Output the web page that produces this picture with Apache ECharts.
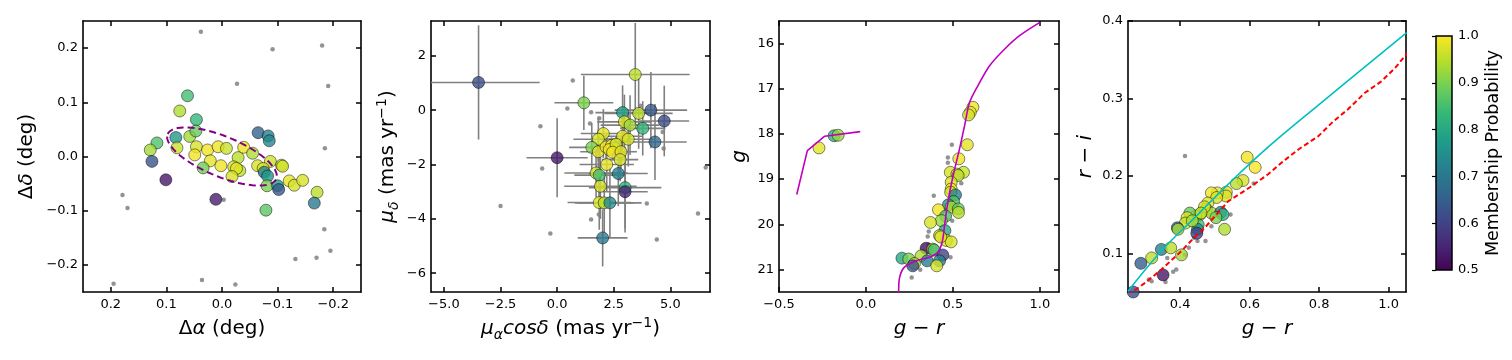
<!DOCTYPE html>
<html>
<head>
<meta charset="utf-8">
<script src="https://cdn.jsdelivr.net/npm/echarts@6/dist/echarts.min.js"></script>
<style>
html, body { margin: 0; padding: 0; background: #fff; }
#chart { width: 1512px; height: 360px; }
</style>
</head>
<body>
<div id="chart"></div>
<script>
// colour map for membership probability (viridis)
const viridis = ['#440154', '#482878', '#3e4989', '#31688e', '#26828e', '#1f9e89', '#35b779', '#6ece58', '#b5de2b', '#fde725'];

// panel 1: sky position, [dRA, dDec, prob]
const raTicks = [0.2, 0.1, 0, -0.1, -0.2];
const decTicks = [-0.2, -0.1, 0, 0.1, 0.2];
const posMembers = [
  [0.062, 0.112, 0.85], [0.076, 0.084, 0.94], [0.046, 0.068, 0.83], [0.083, 0.035, 0.77], [0.058, 0.037, 0.93],
  [0.047, 0.047, 0.88], [0.117, 0.025, 0.86], [0.129, 0.012, 0.93], [0.126, -0.009, 0.63], [0.101, -0.043, 0.53],
  [0.081, 0.016, 0.96], [0.046, 0.018, 0.97], [0.049, 0.003, 0.99], [0.026, 0.012, 0.99], [0.007, 0.018, 0.99],
  [-0.008, 0.015, 0.96], [0.021, -0.008, 0.98], [0.034, -0.021, 0.89], [0.002, -0.017, 0.99], [-0.029, -0.002, 0.95],
  [-0.039, 0.017, 0.99], [-0.055, 0.006, 0.94], [-0.021, -0.019, 0.97], [-0.032, -0.026, 0.95], [-0.026, -0.022, 0.98],
  [-0.018, -0.037, 0.97], [-0.065, 0.044, 0.66], [-0.083, 0.038, 0.72], [-0.085, 0.029, 0.73], [-0.064, -0.017, 0.97],
  [-0.087, -0.009, 0.96], [-0.074, -0.022, 0.97], [-0.076, -0.029, 0.72], [-0.082, -0.036, 0.76], [-0.081, -0.054, 0.9],
  [-0.1, -0.054, 0.78], [-0.102, -0.061, 0.64], [-0.107, -0.016, 0.95], [-0.109, -0.018, 0.97], [-0.121, -0.045, 0.98],
  [-0.13, -0.053, 0.97], [-0.145, -0.044, 0.97], [-0.171, -0.066, 0.95], [-0.166, -0.086, 0.7], [-0.079, -0.099, 0.87],
  [0.011, -0.079, 0.54]
];
const posField = [
  [0.038, 0.23], [-0.091, 0.198], [-0.18, 0.205], [-0.027, 0.134], [-0.191, 0.13], [-0.185, 0.015], [0.179, -0.071],
  [0.17, -0.095], [-0.003, -0.08], [-0.184, -0.134], [-0.195, -0.174], [-0.17, -0.187], [-0.132, -0.189],
  [0.036, -0.228], [-0.024, -0.236], [0.195, -0.235]
];
// centre x, centre y, semi-major, semi-minor, angle (deg)
const coreEllipse = [[0, 0, 0.106, 0.037, 23]];

// panel 2: proper motions, [pmra, pmdec, err pmra, err pmdec, prob]
const pmraTicks = [-5, -2.5, 0, 2.5, 5];
const pmdecTicks = [-6, -4, -2, 0, 2];
const pmMembers = [
  [-3.47, 1.02, 2.7, 2.1, 0.62], [3.45, 1.31, 2.4, 1.9, 0.95], [1.18, 0.27, 1.3, 1.0, 0.9], [2.89, -0.09, 1.2, 1.0, 0.78],
  [3.6, -0.12, 1.5, 1.3, 0.95], [4.14, 0.0, 1.6, 1.4, 0.64], [4.73, -0.4, 1.1, 1.3, 0.62], [2.97, -0.43, 1.2, 1.0, 0.97],
  [3.22, -0.55, 1.3, 1.1, 0.93], [3.78, -0.67, 1.0, 1.0, 0.83], [4.32, -1.17, 1.4, 1.4, 0.67], [2.04, -0.86, 1.0, 0.9, 0.98],
  [1.82, -1.07, 1.1, 0.8, 0.97], [2.89, -0.96, 0.9, 0.8, 0.98], [3.14, -1.07, 1.1, 1.0, 0.97], [1.53, -1.37, 1.0, 0.9, 0.9],
  [1.82, -1.53, 0.8, 0.8, 0.98], [2.16, -1.35, 0.5, 0.5, 0.99], [2.4, -1.3, 0.3, 0.3, 0.99], [2.55, -1.4, 0.3, 0.3, 0.98],
  [2.3, -1.45, 0.2, 0.2, 0.99], [2.6, -1.25, 0.3, 0.3, 0.97], [2.45, -1.55, 0.3, 0.3, 0.99], [2.82, -1.53, 0.7, 0.6, 0.98],
  [2.78, -1.82, 0.8, 0.8, 0.97], [2.19, -2.0, 1.2, 1.0, 0.98], [2.7, -2.33, 1.3, 1.2, 0.72], [1.72, -2.31, 1.4, 0.9, 0.97],
  [1.86, -2.39, 1.1, 1.0, 0.85], [1.91, -2.8, 1.6, 1.2, 0.97], [3.0, -2.85, 1.6, 1.5, 0.82], [3.0, -3.0, 1.0, 1.5, 0.55],
  [1.86, -3.4, 1.4, 1.0, 0.97], [2.08, -3.41, 1.3, 1.1, 0.95], [2.33, -3.41, 1.4, 1.3, 0.74], [0.0, -1.75, 1.35, 1.45, 0.53],
  [2.01, -4.7, 1.1, 1.05, 0.7]
];
const pmField = [
  [0.69, 1.09], [0.45, 0.06], [-0.74, -0.59], [-0.66, -2.15], [-2.5, -3.53], [-0.3, -4.54], [1.5, -0.08], [1.45, -0.49],
  [1.86, -0.3], [3.67, 0.16], [4.66, -0.8], [4.7, -1.41], [3.96, -3.43], [4.4, -4.76], [1.5, -4.02], [1.84, -3.84],
  [6.22, -3.8], [6.56, -2.11]
];

// panel 3: colour-magnitude, [g-r, g, prob]
const grTicksCmd = [-0.5, 0, 0.5, 1.0];
const gTicks = [16, 17, 18, 19, 20, 21];
const cmdMembers = [
  [0.615, 17.41, 0.99], [0.6, 17.52, 0.98], [0.59, 17.58, 0.97], [0.583, 18.24, 0.98], [0.534, 18.55, 0.99],
  [0.485, 18.85, 0.97], [0.561, 18.85, 0.96], [0.523, 18.89, 0.97], [0.53, 18.92, 0.95], [0.49, 19.07, 0.97],
  [0.49, 19.22, 0.99], [0.487, 19.29, 0.96], [0.515, 19.35, 0.72], [0.504, 19.5, 0.86], [0.474, 19.57, 0.75],
  [0.49, 19.62, 0.94], [0.417, 19.68, 0.99], [0.531, 19.66, 0.88], [0.532, 19.74, 0.95], [0.458, 19.82, 0.85],
  [0.433, 19.92, 0.92], [0.371, 19.96, 0.97], [0.454, 20.14, 0.8], [0.423, 20.25, 0.95], [0.462, 20.36, 0.98],
  [0.49, 20.39, 0.97], [0.43, 20.28, 0.98], [0.346, 20.53, 0.52], [0.384, 20.55, 0.93], [0.392, 20.57, 0.85],
  [0.317, 20.7, 0.94], [0.442, 20.68, 0.6], [0.207, 20.75, 0.8], [0.246, 20.77, 0.9], [0.279, 20.87, 0.94],
  [0.269, 20.92, 0.63], [0.352, 20.81, 0.72], [0.423, 20.81, 0.72], [0.407, 20.92, 0.97],
  [-0.183, 18.04, 0.82], [-0.16, 18.03, 0.92], [-0.27, 18.31, 0.98]
];
const cmdField = [
  [0.494, 18.24], [0.471, 18.52], [0.471, 18.64], [0.548, 19.09], [0.39, 19.37], [0.496, 19.92], [0.361, 20.16],
  [0.355, 20.27], [0.486, 20.73], [0.312, 21.01], [0.263, 21.18], [0.36, 20.45], [0.33, 20.6]
];
const isoHB = [[-0.398, 19.34], [-0.337, 18.37], [-0.237, 18.05], [-0.033, 17.95]];
const isoMain = [
  [0.188, 21.51], [0.192, 21.21], [0.221, 20.95], [0.288, 20.81], [0.365, 20.73], [0.413, 20.62], [0.438, 20.4],
  [0.452, 20.03], [0.465, 19.66], [0.485, 19.22], [0.51, 18.78], [0.538, 18.33], [0.567, 17.82], [0.596, 17.3],
  [0.644, 16.93], [0.711, 16.49], [0.798, 16.12], [0.885, 15.82], [1.0, 15.53]
];

// panel 4: colour-colour, [g-r, r-i, prob]
const grTicksCc = [0.4, 0.6, 0.8, 1.0];
const riTicks = [0.1, 0.2, 0.3, 0.4];
const ccMembers = [
  [0.593, 0.224, 0.99], [0.616, 0.211, 1.0], [0.581, 0.194, 0.97], [0.562, 0.19, 0.95], [0.533, 0.179, 0.98],
  [0.532, 0.174, 0.97], [0.507, 0.178, 0.98], [0.49, 0.178, 0.99], [0.505, 0.172, 0.97], [0.48, 0.165, 0.98],
  [0.475, 0.157, 0.97], [0.49, 0.152, 0.93], [0.517, 0.153, 0.72], [0.523, 0.15, 0.82], [0.503, 0.146, 0.9],
  [0.457, 0.15, 0.98], [0.445, 0.148, 0.97], [0.428, 0.152, 0.88], [0.42, 0.146, 0.97], [0.415, 0.139, 0.96],
  [0.452, 0.137, 0.85], [0.45, 0.131, 0.75], [0.448, 0.126, 0.6], [0.392, 0.133, 0.65], [0.394, 0.131, 0.93],
  [0.528, 0.131, 0.94], [0.346, 0.105, 0.72], [0.373, 0.107, 0.95], [0.404, 0.098, 0.93], [0.318, 0.094, 0.95],
  [0.287, 0.087, 0.65], [0.351, 0.072, 0.53], [0.265, 0.05, 0.62], [0.47, 0.16, 0.97], [0.46, 0.152, 0.95],
  [0.435, 0.142, 0.94]
];
const ccField = [
  [0.414, 0.2255], [0.612, 0.19], [0.545, 0.15], [0.49, 0.135], [0.473, 0.116], [0.45, 0.116], [0.425, 0.107],
  [0.414, 0.098], [0.389, 0.079], [0.38, 0.076], [0.358, 0.063], [0.318, 0.064], [0.31, 0.066], [0.363, 0.094],
  [0.44, 0.12]
];
const locusCyan = [[0.25, 0.051], [0.346, 0.103], [0.442, 0.146], [0.538, 0.189], [0.653, 0.237], [0.797, 0.291], [1.052, 0.385]];
const locusRed = [
  [0.25, 0.046], [0.3, 0.062], [0.346, 0.079], [0.404, 0.103], [0.442, 0.121], [0.471, 0.133], [0.538, 0.167],
  [0.6, 0.185], [0.653, 0.202], [0.7, 0.22], [0.74, 0.234], [0.797, 0.251], [0.84, 0.27], [0.883, 0.286],
  [0.931, 0.307], [0.979, 0.322], [1.02, 0.34], [1.06, 0.362]
];

// colour bar
const cbTicks = [0.5, 0.6, 0.7, 0.8, 0.9, 1.0];
const cbRange = [[0, 0.5, 1, 1.0]];

const FONT = 'DejaVu Sans';
const f1 = v => v.toFixed(1).replace('-', '\u2212');
const f0 = v => String(v).replace('-', '\u2212');

const nameRich = {
  n: { fontSize: 20, fontFamily: FONT, lineHeight: 26, verticalAlign: 'middle', color: '#000' },
  it: { fontSize: 20, fontFamily: FONT, fontStyle: 'italic', lineHeight: 26, verticalAlign: 'middle', color: '#000' },
  sub: { fontSize: 14, fontFamily: FONT, fontStyle: 'italic', lineHeight: 14, verticalAlign: 'bottom', color: '#000' },
  sup: { fontSize: 14, fontFamily: FONT, lineHeight: 14, verticalAlign: 'top', color: '#000' }
};

function axis(grid, pos, min, max, ticks, fmt, opts) {
  const labelled = pos === 'bottom' || pos === 'left';
  return Object.assign({
    type: 'value', gridIndex: grid, position: pos, min: min, max: max,
    axisLine: { show: true, onZero: false, lineStyle: { color: '#000', width: 1.6 } },
    axisTick: { show: true, inside: true, length: 5, customValues: ticks, lineStyle: { color: '#000', width: 1.5 } },
    axisLabel: {
      show: labelled, customValues: ticks, formatter: fmt, color: '#000', fontSize: 13, fontFamily: FONT,
      margin: pos === 'bottom' ? 6 : 5, showMinLabel: true, showMaxLabel: true
    },
    splitLine: { show: false },
    nameTextStyle: { rich: nameRich, fontSize: 20, fontFamily: FONT, lineHeight: 26, color: '#000' }
  }, opts || {});
}

const grids = [
  { left: 83, top: 21, width: 278, height: 271 },
  { left: 431, top: 21, width: 279, height: 271 },
  { left: 779, top: 21, width: 280, height: 271 },
  { left: 1128, top: 21, width: 278, height: 271 },
  { left: 1436, top: 36, width: 16, height: 234 }
];

const xAxes = [
  axis(0, 'bottom', -0.25, 0.25, raTicks, f1, { inverse: true, name: '{n|\u0394}{it|\u03b1}{n| (deg)}', nameLocation: 'middle', nameGap: 22 }),
  axis(0, 'top', -0.25, 0.25, raTicks, f1, { inverse: true }),
  axis(1, 'bottom', -5.57, 6.75, pmraTicks, f1, { name: '{it|\u03bc}{sub|\u03b1}{it|cos\u03b4}{n| (mas yr}{sup|\u22121}{n|)}', nameLocation: 'middle', nameGap: 22 }),
  axis(1, 'top', -5.57, 6.75, pmraTicks, f1),
  axis(2, 'bottom', -0.5, 1.11, grTicksCmd, f1, { name: '{it|g}{n| \u2212 }{it|r}', nameLocation: 'middle', nameGap: 22 }),
  axis(2, 'top', -0.5, 1.11, grTicksCmd, f1),
  axis(3, 'bottom', 0.25, 1.05, grTicksCc, f1, { name: '{it|g}{n| \u2212 }{it|r}', nameLocation: 'middle', nameGap: 22 }),
  axis(3, 'top', 0.25, 1.05, grTicksCc, f1),
  { type: 'value', gridIndex: 4, min: 0, max: 1, show: false }
];
const yAxes = [
  axis(0, 'left', -0.25, 0.25, decTicks, f1, { name: '{n|\u0394}{it|\u03b4}{n| (deg)}', nameLocation: 'middle', nameGap: 43 }),
  axis(0, 'right', -0.25, 0.25, decTicks, f1),
  axis(1, 'left', -6.69, 3.28, pmdecTicks, f0, { name: '{it|\u03bc}{sub|\u03b4}{n| (mas yr}{sup|\u22121}{n|)}', nameLocation: 'middle', nameGap: 30 }),
  axis(1, 'right', -6.69, 3.28, pmdecTicks, f0),
  axis(2, 'left', 15.5, 21.5, gTicks, f0, { inverse: true, name: '{it|g}', nameLocation: 'middle', nameGap: 26 }),
  axis(2, 'right', 15.5, 21.5, gTicks, f0, { inverse: true }),
  axis(3, 'left', 0.05, 0.4, riTicks, f1, { name: '{it|r}{n| \u2212 }{it|i}', nameLocation: 'middle', nameGap: 29 }),
  axis(3, 'right', 0.05, 0.4, riTicks, f1),
  axis(4, 'right', 0.5, 1.0, cbTicks, f1, {
    z: 5,
    axisLine: { show: false },
    axisTick: { show: true, inside: true, length: 4, customValues: cbTicks, lineStyle: { color: '#000', width: 1.2 } },
    axisLabel: { show: true, customValues: cbTicks, formatter: f1, color: '#000', fontSize: 13, fontFamily: FONT, margin: 6, showMinLabel: true, showMaxLabel: true },
    name: 'Membership Probability', nameLocation: 'middle', nameRotate: 90, nameGap: 29,
    nameTextStyle: { fontSize: 17.5, fontFamily: FONT, color: '#000', lineHeight: 22 }
  })
];

const memberStyle = { borderColor: 'rgba(0,0,0,0.85)', borderWidth: 0.7, opacity: 0.8 };
const fieldStyle = { color: '#808080', opacity: 0.85 };

function members(i, data) {
  return { type: 'scatter', xAxisIndex: 2 * i, yAxisIndex: 2 * i, data: data, symbolSize: 12, itemStyle: memberStyle, z: 3 };
}
function field(i, data) {
  return { type: 'scatter', xAxisIndex: 2 * i, yAxisIndex: 2 * i, data: data, symbolSize: 4.5, itemStyle: fieldStyle, z: 2 };
}
function curve(i, data, color, dash, smooth) {
  return {
    type: 'line', xAxisIndex: 2 * i, yAxisIndex: 2 * i, data: data, showSymbol: false, symbol: 'none', z: 4,
    smooth: smooth || false,
    lineStyle: { color: color, width: dash ? 2 : 1.6, type: dash ? [5, 3] : 'solid' }
  };
}

const series = [
  field(0, posField),
  members(0, posMembers),
  {
    type: 'custom', xAxisIndex: 0, yAxisIndex: 0, data: coreEllipse, z: 4, encode: { x: 0, y: 1 },
    renderItem: function (params, api) {
      const cx = api.value(0), cy = api.value(1), a = api.value(2), b = api.value(3);
      const ang = api.value(4) * Math.PI / 180;
      const pts = [];
      for (let k = 0; k <= 90; k++) {
        const t = k / 90 * 2 * Math.PI;
        const dx = a * Math.cos(t) * Math.cos(ang) - b * Math.sin(t) * Math.sin(ang);
        const dy = a * Math.cos(t) * Math.sin(ang) + b * Math.sin(t) * Math.cos(ang);
        pts.push(api.coord([cx + dx, cy + dy]));
      }
      return { type: 'polyline', shape: { points: pts }, style: { stroke: '#800080', lineWidth: 2, lineDash: [7, 4], fill: null } };
    }
  },
  {
    type: 'custom', xAxisIndex: 2, yAxisIndex: 2, data: pmMembers, z: 1, clip: true, encode: { x: 0, y: 1 },
    renderItem: function (params, api) {
      const x = api.value(0), y = api.value(1), ex = api.value(2), ey = api.value(3);
      const l = api.coord([x - ex, y]), r = api.coord([x + ex, y]);
      const t = api.coord([x, y + ey]), b = api.coord([x, y - ey]);
      const st = { stroke: '#808080', lineWidth: 1.6 };
      return {
        type: 'group', children: [
          { type: 'line', shape: { x1: l[0], y1: l[1], x2: r[0], y2: r[1] }, style: st },
          { type: 'line', shape: { x1: t[0], y1: t[1], x2: b[0], y2: b[1] }, style: st }
        ]
      };
    }
  },
  field(1, pmField),
  members(1, pmMembers.map(d => [d[0], d[1], d[4]])),
  field(2, cmdField),
  members(2, cmdMembers),
  curve(2, isoHB, '#bf00bf', false, false),
  curve(2, isoMain, '#bf00bf', false, 0.3),
  field(3, ccField),
  members(3, ccMembers),
  curve(3, locusCyan, '#00bfbf', false, 0.4),
  curve(3, locusRed, '#ff0000', true, false),
  {
    type: 'custom', xAxisIndex: 8, yAxisIndex: 8, data: cbRange, z: 1, encode: { x: 0, y: 1 },
    renderItem: function (params, api) {
      const p0 = api.coord([api.value(0), api.value(1)]);
      const p1 = api.coord([api.value(2), api.value(3)]);
      const stops = viridis.map((c, i) => ({ offset: i / (viridis.length - 1), color: c }));
      return {
        type: 'rect',
        shape: { x: p0[0], y: p1[1], width: p1[0] - p0[0], height: p0[1] - p1[1] },
        style: { fill: new echarts.graphic.LinearGradient(0, 1, 0, 0, stops), stroke: '#000', lineWidth: 1.5 }
      };
    }
  }
];

const memberSeries = [];
series.forEach((s, i) => { if (s.type === 'scatter' && s.symbolSize === 12) memberSeries.push(i); });

const chart = echarts.init(document.getElementById('chart'));
chart.setOption({
  animation: false,
  backgroundColor: '#fff',
  grid: grids,
  xAxis: xAxes,
  yAxis: yAxes,
  visualMap: [{
    type: 'continuous', show: false, min: 0.5, max: 1, dimension: 2,
    seriesIndex: memberSeries, inRange: { color: viridis }
  }],
  series: series
});
</script>
</body>
</html>
